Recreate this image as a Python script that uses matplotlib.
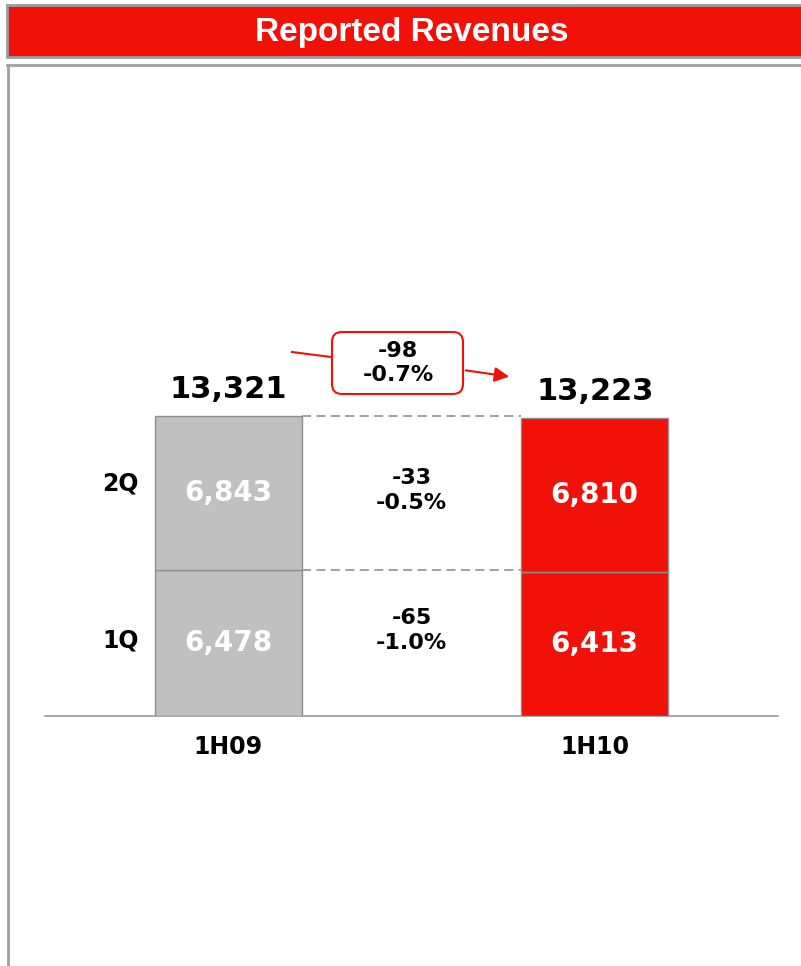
import matplotlib.pyplot as plt
from matplotlib.patches import Rectangle, FancyBboxPatch

periods = ['1H09', '1H10']
q1 = [6478, 6413]
q2 = [6843, 6810]
quarters = ['1Q', '2Q']
title = 'Reported Revenues'

red = '#F21108'
grey_bar = '#C0C0C0'
edge = '#8E8E8E'

totals = [a + b for a, b in zip(q1, q2)]

def change(old, new):
    d = new - old
    return f'{d:,}\n{d / old * 100:.1f}%'

W, H = 801, 966
fig = plt.figure(figsize=(W / 100, H / 100), dpi=100)

# chart axes, placed in pixel terms: baseline at y=716, x from 45 to 778
base_px, top_px = 716, 100
scale = 300 / totals[0]   # px per unit
ax = fig.add_axes([45 / W, (H - base_px) / H, (778 - 45) / W, (base_px - top_px) / H])
ax.patch.set_alpha(0)
ax.set_xlim(-0.5, 1.5)
ax.set_ylim(0, (base_px - top_px) / scale)
for s in ['top', 'right', 'left']:
    ax.spines[s].set_visible(False)
ax.spines['bottom'].set_color('#9A9A9A')
ax.spines['bottom'].set_linewidth(1.2)
ax.set_xticks([])
ax.set_yticks([])

x = [0, 1]
w = 0.40
colors = [grey_bar, red]
ax.bar(x, q1, w, color=colors, edgecolor=edge, linewidth=1, zorder=3)
ax.bar(x, q2, w, bottom=q1, color=colors, edgecolor=edge, linewidth=1, zorder=3)

num_font = dict(family='DejaVu Sans', weight='bold')
for i in range(2):
    ax.text(x[i], q1[i] / 2, f'{q1[i]:,}', ha='center', va='center',
            color='white', fontsize=20, **num_font, zorder=4)
    ax.text(x[i], q1[i] + q2[i] / 2, f'{q2[i]:,}', ha='center', va='center',
            color='white', fontsize=20, **num_font, zorder=4)
    ax.annotate(f'{totals[i]:,}', (x[i], totals[i]), xytext=(0, 19),
                textcoords='offset points', ha='center', va='center',
                fontsize=22, **num_font)
    ax.annotate(periods[i], (x[i], 0), xytext=(0, -22), textcoords='offset points',
                ha='center', va='center', fontsize=17, **num_font)

# quarter labels left of first bar
ax.annotate(quarters[0], (x[0] - w / 2, q1[0] / 2), xytext=(-25, 2),
            textcoords='offset points', ha='center', va='center', fontsize=17, **num_font)
ax.annotate(quarters[1], (x[0] - w / 2, q1[0] + q2[0] / 2), xytext=(-25, 7),
            textcoords='offset points', ha='center', va='center', fontsize=17, **num_font)

# dashed connectors
ax.hlines([q1[0], totals[0]], x[0] + w / 2, x[1] - w / 2, colors='#999999',
          linewidth=1.3, linestyles=(0, (5, 3)), zorder=2)

# changes between bars
mid = (x[0] + x[1]) / 2
ax.annotate(change(q1[0], q1[1]), (mid, q1[0] / 2), xytext=(0, 9),
            textcoords='offset points', ha='center', va='center',
            fontsize=16, linespacing=1.3, **num_font)
ax.annotate(change(q2[0], q2[1]), (mid, q1[0] + q2[0] / 2), xytext=(0, 2),
            textcoords='offset points', ha='center', va='center',
            fontsize=16, linespacing=1.3, **num_font)

# overlay in pixel coordinates for frame, title bar and total-change callout
ov = fig.add_axes([0, 0, 1, 1])
ov.set_xlim(0, W)
ov.set_ylim(H, 0)
ov.axis('off')
ov.patch.set_alpha(0)

ov.add_patch(Rectangle((7, 5), W, 52, facecolor=red, edgecolor='#9C9C9C', linewidth=2))
ov.text(412, 33, title, ha='center', va='center', color='white', fontsize=24,
        family='Liberation Sans', weight='bold')
ov.plot([7, W + 5], [65, 65], color='#A0A0A0', linewidth=2)
ov.plot([7.5, 7.5], [65, H + 5], color='#A0A0A0', linewidth=2)

ov.plot([292, 331], [352, 357], color=red, linewidth=1.5)
ov.annotate('', xy=(512, 377), xytext=(463, 370),
            arrowprops=dict(arrowstyle='-|>', color=red, lw=1.5, mutation_scale=22))
ov.add_patch(FancyBboxPatch((332, 332), 131, 62, boxstyle='round,pad=0,rounding_size=10',
                            facecolor='white', edgecolor=red, linewidth=1.5))
ov.text(398, 363, change(totals[0], totals[1]), ha='center', va='center',
        fontsize=16, linespacing=1.3, **num_font)

fig.savefig('out.png', dpi=100)
